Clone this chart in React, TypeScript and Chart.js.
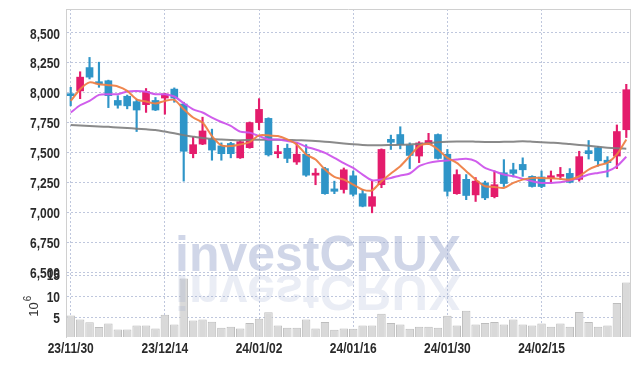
import React, { useEffect, useRef } from 'react';
import { Chart, registerables } from 'chart.js';
Chart.register(...registerables);

const dates = [
  '23/11/30','23/12/01','23/12/04','23/12/05','23/12/06','23/12/07','23/12/08','23/12/11','23/12/12','23/12/13',
  '23/12/14','23/12/15','23/12/18','23/12/19','23/12/20','23/12/21','23/12/22','23/12/26','23/12/27','23/12/28',
  '24/01/02','24/01/03','24/01/04','24/01/05','24/01/08','24/01/09','24/01/10','24/01/11','24/01/12','24/01/15',
  '24/01/16','24/01/17','24/01/18','24/01/19','24/01/22','24/01/23','24/01/24','24/01/25','24/01/26','24/01/29',
  '24/01/30','24/01/31','24/02/01','24/02/02','24/02/05','24/02/06','24/02/07','24/02/08','24/02/13','24/02/14',
  '24/02/15','24/02/16','24/02/19','24/02/20','24/02/21','24/02/22','24/02/23','24/02/26','24/02/27','24/02/28',
];

const opens = [
  7990, 8015, 8210, 8090, 8100, 7935, 7970, 7925, 7900, 7935,
  7955, 8030, 7905, 7490, 7570, 7610, 7555, 7575, 7455, 7540,
  7750, 7785, 7490, 7535, 7420, 7485, 7310, 7365, 7195, 7190,
  7305, 7155, 7050, 7230, 7610, 7650, 7560, 7470, 7570, 7650,
  7485, 7155, 7275, 7145, 7245, 7130, 7330, 7355, 7400, 7300,
  7295, 7285, 7300, 7325, 7275, 7515, 7540, 7435, 7470, 7690,
];
const highs = [
  8045, 8175, 8295, 8255, 8105, 7975, 7980, 7945, 8035, 7960,
  7995, 8040, 7920, 7630, 7795, 7695, 7580, 7585, 7600, 7755,
  7950, 7790, 7560, 7570, 7580, 7565, 7365, 7375, 7260, 7370,
  7345, 7190, 7260, 7530, 7645, 7715, 7580, 7590, 7660, 7655,
  7525, 7355, 7315, 7290, 7260, 7345, 7440, 7410, 7455, 7305,
  7345, 7345, 7375, 7365, 7510, 7600, 7550, 7465, 7730, 8070,
];
const lows = [
  7890, 7950, 8115, 8045, 7875, 7870, 7865, 7675, 7835, 7850,
  7820, 7920, 7260, 7455, 7565, 7435, 7435, 7455, 7450, 7535,
  7690, 7470, 7455, 7415, 7400, 7300, 7230, 7150, 7155, 7160,
  7135, 7045, 6995, 7205, 7525, 7530, 7365, 7415, 7565, 7445,
  7135, 7150, 7105, 7090, 7105, 7120, 7215, 7295, 7300, 7210,
  7205, 7245, 7275, 7245, 7260, 7445, 7385, 7295, 7365, 7625,
];
const closes = [
  7975, 8130, 8130, 8075, 7975, 7895, 7890, 7855, 8010, 7855,
  7990, 7955, 7510, 7565, 7680, 7520, 7490, 7490, 7590, 7750,
  7860, 7480, 7505, 7450, 7485, 7310, 7320, 7155, 7175, 7355,
  7150, 7050, 7130, 7525, 7585, 7565, 7475, 7580, 7600, 7450,
  7175, 7315, 7140, 7260, 7120, 7230, 7240, 7325, 7355, 7215,
  7215, 7305, 7315, 7250, 7465, 7490, 7430, 7415, 7675, 8025,
];

// volume in millions of shares
const volumes = [
  5.5, 4.56, 3.93, 2.85, 3.63, 2.23, 2.23, 3.16, 3.16, 2.47,
  5.72, 3.4, 14.26, 4.33, 4.56, 4.05, 2.63, 2.9, 2.45, 3.79,
  4.75, 6.3, 3.16, 2.63, 2.63, 4.56, 2.45, 4.02, 2.15, 2.45,
  2.42, 3.16, 3.16, 5.92, 3.79, 3.4, 2.4, 2.86, 2.86, 2.63,
  5.49, 3.16, 6.65, 3.4, 3.79, 4.02, 3.4, 4.56, 3.4, 3.16,
  3.63, 2.86, 3.63, 2.86, 6.35, 4.02, 2.86, 3.16, 8.44, 13.3,
];

const maShort = [
  7931, 8029, 8086, 8071, 8063, 8052, 8015, 7945, 7926, 7909,
  7931, 7940, 7861, 7792, 7750, 7637, 7559, 7553, 7567, 7587,
  7643, 7643, 7637, 7609, 7567, 7483, 7441, 7357, 7296, 7273,
  7231, 7189, 7183, 7259, 7324, 7385, 7469, 7553, 7573, 7525,
  7455, 7413, 7343, 7273, 7217, 7212, 7203, 7245, 7273, 7287,
  7287, 7284, 7279, 7273, 7301, 7357, 7391, 7413, 7483, 7609,
];
const maMid = [
  7834, 7895, 7931, 7982, 7987, 7987, 8010, 8015, 8007, 7987,
  7987, 7968, 7912, 7861, 7834, 7792, 7755, 7722, 7674, 7666,
  7637, 7609, 7609, 7595, 7582, 7548, 7525, 7497, 7455, 7410,
  7371, 7315, 7267, 7273, 7287, 7307, 7324, 7385, 7413, 7427,
  7433, 7441, 7447, 7427, 7371, 7343, 7315, 7301, 7279, 7259,
  7245, 7245, 7250, 7265, 7287, 7315, 7329, 7343, 7385, 7464,
];
const maLong = [
  7730, 7726, 7722, 7718, 7714, 7709, 7704, 7699, 7694, 7688,
  7675, 7660, 7645, 7632, 7620, 7612, 7608, 7605, 7603, 7605,
  7607, 7606, 7606, 7605, 7603, 7600, 7596, 7590, 7583, 7575,
  7568, 7563, 7560, 7560, 7562, 7564, 7567, 7570, 7577, 7585,
  7590, 7592, 7592, 7590, 7588, 7588, 7589, 7590, 7593, 7590,
  7586, 7582, 7578, 7570, 7563, 7556, 7548, 7540, 7535, 7532,
];

const priceTicks = [6500, 6750, 7000, 7250, 7500, 7750, 8000, 8250, 8500];
const volumeTicks = [5, 10, 15];
const priceMin = 6500;
const priceMax = 8700;
const volumeMin = 0.47;
const volumeMax = 15.76;
const volumeUnitExp = '6';

const UP = '#e41c6c';
const DOWN = '#2f95c8';
const GRID = 'rgba(170,180,210,0.75)';
const LABEL_FONT = "bold 15px 'Liberation Sans', Arial, sans-serif";
const LABEL_COLOR = '#2a2a2a';
const SQUEEZE = 0.8;

function drawNarrow(ctx: any, text: string, x: number, y: number, align: 'left' | 'right' | 'center') {
  ctx.save();
  ctx.font = LABEL_FONT;
  ctx.fillStyle = LABEL_COLOR;
  ctx.textBaseline = 'middle';
  ctx.textAlign = align;
  ctx.translate(x, y);
  ctx.scale(SQUEEZE, 1);
  ctx.fillText(text, 0, 0);
  ctx.restore();
}

const decoPlugin = {
  id: 'deco',
  afterDatasetsDraw(chart: any) {
    const { ctx, chartArea } = chart;
    ctx.save();
    ctx.beginPath();
    ctx.rect(chartArea.left, chartArea.top, chartArea.right - chartArea.left, chartArea.bottom - chartArea.top);
    ctx.clip();
    ctx.font = "bold 50px 'Liberation Sans', Arial, sans-serif";
    ctx.textBaseline = 'alphabetic';
    ctx.textAlign = 'left';
    ctx.fillStyle = 'rgba(150,165,205,0.45)';
    ctx.fillText('investCRUX', 175, 271);
    ctx.translate(0, 546);
    ctx.scale(1, -1);
    ctx.fillStyle = 'rgba(150,165,205,0.2)';
    ctx.fillText('investCRUX', 175, 271);
    ctx.restore();
  },
  afterDraw(chart: any) {
    const { ctx, chartArea } = chart;
    ctx.save();
    ctx.strokeStyle = '#d0d0d0';
    ctx.lineWidth = 1;
    ctx.beginPath();
    ctx.moveTo(chartArea.left, chartArea.top + 0.5);
    ctx.lineTo(chartArea.right, chartArea.top + 0.5);
    ctx.moveTo(chartArea.right - 0.5, chartArea.top);
    ctx.lineTo(chartArea.right - 0.5, chartArea.bottom);
    ctx.stroke();
    ctx.restore();

    // axis labels (narrow lettering), positioned by the chart's own scales
    const { x, y, y2 } = chart.scales;
    const labelRight = chartArea.left - 6;
    y.ticks.forEach((t: any) => {
      drawNarrow(ctx, Number(t.value).toLocaleString('en-US'), labelRight, y.getPixelForValue(t.value) + 1.5, 'right');
    });
    y2.ticks.forEach((t: any) => {
      drawNarrow(ctx, String(t.value), labelRight, y2.getPixelForValue(t.value) + 1, 'right');
    });
    x.ticks.forEach((t: any) => {
      drawNarrow(ctx, dates[t.value], x.getPixelForValue(t.value), chartArea.bottom + 12, 'center');
    });

    // unit label of volume axis
    ctx.save();
    const cy = (y2.top + y2.bottom) / 2 + 2;
    ctx.translate(34, cy);
    ctx.rotate(-Math.PI / 2);
    ctx.fillStyle = '#333';
    ctx.textBaseline = 'middle';
    ctx.textAlign = 'left';
    ctx.font = "13px 'Liberation Sans', Arial, sans-serif";
    const w = ctx.measureText('10').width;
    ctx.fillText('10', -w / 2 - 3, 0);
    ctx.font = "10px 'Liberation Sans', Arial, sans-serif";
    ctx.fillText(volumeUnitExp, w / 2 - 2, -6);
    ctx.restore();
  },
};

export default function App() {
  const ref = useRef<HTMLCanvasElement>(null);
  useEffect(() => {
    if (!ref.current) return;
    const colors = closes.map((c, i) => (c >= opens[i] ? UP : DOWN));
    const chart = new Chart(ref.current, {
      type: 'bar',
      data: {
        labels: dates,
        datasets: [
          { type: 'line', data: maShort, borderColor: 'rgba(238,128,70,0.95)', borderWidth: 2, pointRadius: 0, tension: 0.25, yAxisID: 'y', order: 0 },
          { type: 'line', data: maMid, borderColor: 'rgba(205,85,235,0.95)', borderWidth: 2, pointRadius: 0, tension: 0.25, yAxisID: 'y', order: 0 },
          { type: 'line', data: maLong, borderColor: 'rgba(125,125,125,0.9)', borderWidth: 2, pointRadius: 0, tension: 0.25, yAxisID: 'y', order: 0 },
          { type: 'bar', data: opens.map((o, i) => [o, closes[i]]), backgroundColor: colors, barThickness: 7, minBarLength: 2, grouped: false, yAxisID: 'y', order: 1 },
          { type: 'bar', data: lows.map((l, i) => [l, highs[i]]), backgroundColor: colors, barThickness: 1.5, grouped: false, yAxisID: 'y', order: 2 },
          { type: 'bar', data: volumes, backgroundColor: '#d9d9d9', borderColor: '#bdbdbd', borderWidth: 1, barPercentage: 0.9, categoryPercentage: 1, grouped: false, yAxisID: 'y2', order: 3 },
        ] as any,
      },
      options: {
        animation: false,
        responsive: false,
        maintainAspectRatio: false,
        layout: { padding: { top: 9, right: 8, left: 0, bottom: 0 } },
        plugins: { legend: { display: false }, tooltip: { enabled: false } },
        scales: {
          x: {
            type: 'category',
            offset: true,
            grid: { offset: false, color: GRID, drawTicks: false },
            border: { display: false, dash: [2, 2] },
            ticks: { display: false, autoSkip: false, maxRotation: 0 },
            afterBuildTicks: (s: any) => { s.ticks = s.ticks.filter((t: any) => t.value % 10 === 0); },
            afterFit: (s: any) => { s.height = 29; },
          },
          y2: {
            position: 'left',
            stack: 'main',
            stackWeight: 65,
            min: volumeMin,
            max: volumeMax,
            grid: { color: GRID, drawTicks: false },
            border: { display: true, color: '#d0d0d0', dash: [2, 2] },
            ticks: { display: false, autoSkip: false },
            afterBuildTicks: (s: any) => { s.ticks = volumeTicks.map((v) => ({ value: v })); },
            afterFit: (s: any) => { s.width = 66; },
          },
          y: {
            position: 'left',
            stack: 'main',
            stackWeight: 263,
            min: priceMin,
            max: priceMax,
            grid: { color: GRID, drawTicks: false },
            border: { display: true, color: '#d0d0d0', dash: [2, 2] },
            ticks: { display: false, autoSkip: false },
            afterBuildTicks: (s: any) => { s.ticks = priceTicks.map((v) => ({ value: v })); },
            afterFit: (s: any) => { s.width = 66; },
          },
        },
      } as any,
      plugins: [decoPlugin],
    });
    return () => chart.destroy();
  }, []);
  return (
    <div style={{ position: 'absolute', left: 0, top: 0, width: 639, height: 366, background: '#fff' }}>
      <canvas ref={ref} width={639} height={366} />
    </div>
  );
}
